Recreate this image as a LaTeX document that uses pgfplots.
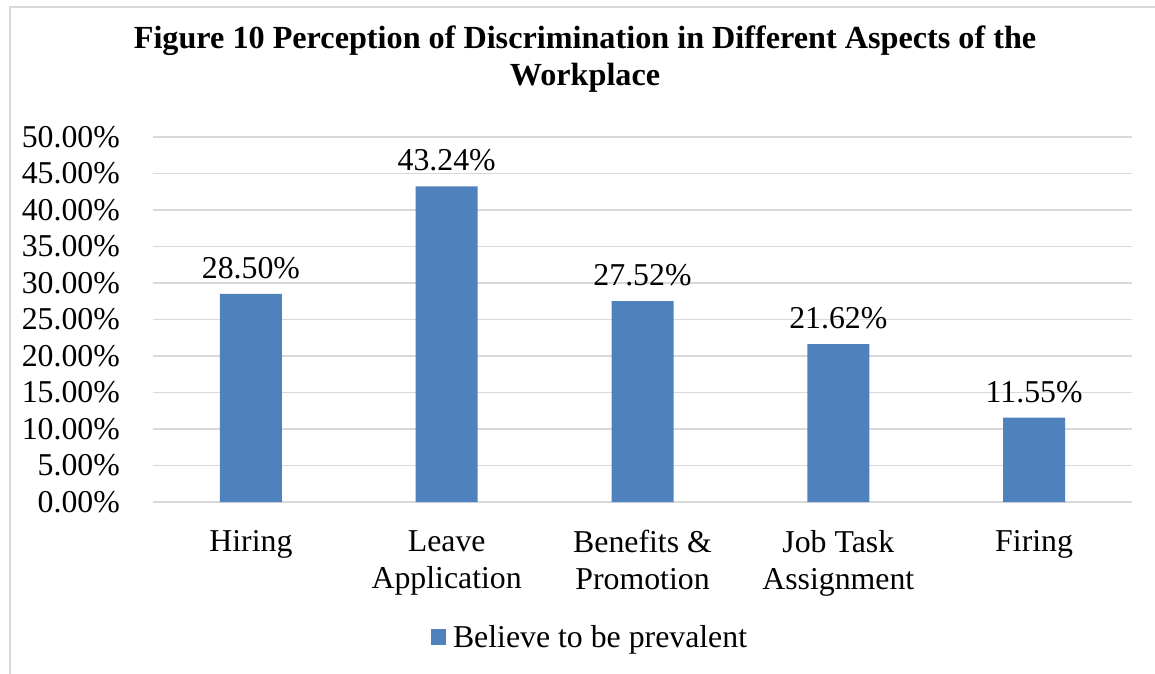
\documentclass[border=0pt]{standalone}
\usepackage{pgfplots}
\pgfplotsset{compat=1.18}
\usepackage{fontspec}
\setmainfont{Liberation Serif}
\definecolor{barblue}{RGB}{79,129,189}
\definecolor{gridgray}{RGB}{217,217,217}
\newcommand{\fs}{\fontsize{31.8}{37}\selectfont}
\begin{document}
\begin{tikzpicture}[x=1pt,y=1pt]
\useasboundingbox (0,0) rectangle (1155,673);
\begin{scope}
\clip (0,0) rectangle (1155,673);
\draw[gridgray, line width=1.5pt] (10,-20) -- (10,666) -- (1200,666);
\end{scope}
\begin{axis}[
  /pgf/number format/assume math mode=true,
  at={(153pt,171pt)}, anchor=south west,
  scale only axis, width=979pt, height=365pt,
  xmin=-0.5, xmax=4.5, ymin=0, ymax=50,
  ytick={0,5,...,50},
  yticklabel={\pgfmathprintnumber[fixed,fixed zerofill,precision=2]{\tick}\%},
  yticklabel style={font=\fs, anchor=east, inner sep=0pt, xshift=-33pt},
  xtick={0,1,2,3,4},
  xticklabels={Hiring,{Leave\\Application},{Benefits \&\\Promotion},{Job Task\\Assignment},Firing},
  xticklabel style={font=\fs, align=center, anchor=north, inner sep=0pt, yshift=-28pt},
  major tick length=0pt,
  axis line style={draw=none},
  ymajorgrids, grid style={gridgray, line width=1.3pt},
  title={Figure 10 Perception of Discrimination in Different Aspects of the\\Workplace},
  title style={font=\bfseries\fontsize{32.2}{37}\selectfont, align=center, at={(0.4413,1.196)}, anchor=center},
  legend style={at={(0.4464,-0.370)}, anchor=center, draw=none, font=\fs, inner sep=0pt,
    /tikz/every even column/.append style={column sep=0pt}},
  legend cell align=left,
  ybar, bar width=62pt,
  nodes near coords={\pgfmathprintnumber[fixed,fixed zerofill,precision=2]{\pgfplotspointmeta}\%},
  nodes near coords style={font=\fs, inner sep=0pt, anchor=south, yshift=15pt, text=black},
]
\addplot[fill=barblue, draw=none,
  legend image code/.code={\fill[barblue] (0pt,-8pt) rectangle (15pt,8pt); \path (20pt,0pt);}]
  coordinates {(0,28.50) (1,43.24) (2,27.52) (3,21.62) (4,11.55)};
\addlegendentry{Believe to be prevalent}
\end{axis}
\end{tikzpicture}
\end{document}
